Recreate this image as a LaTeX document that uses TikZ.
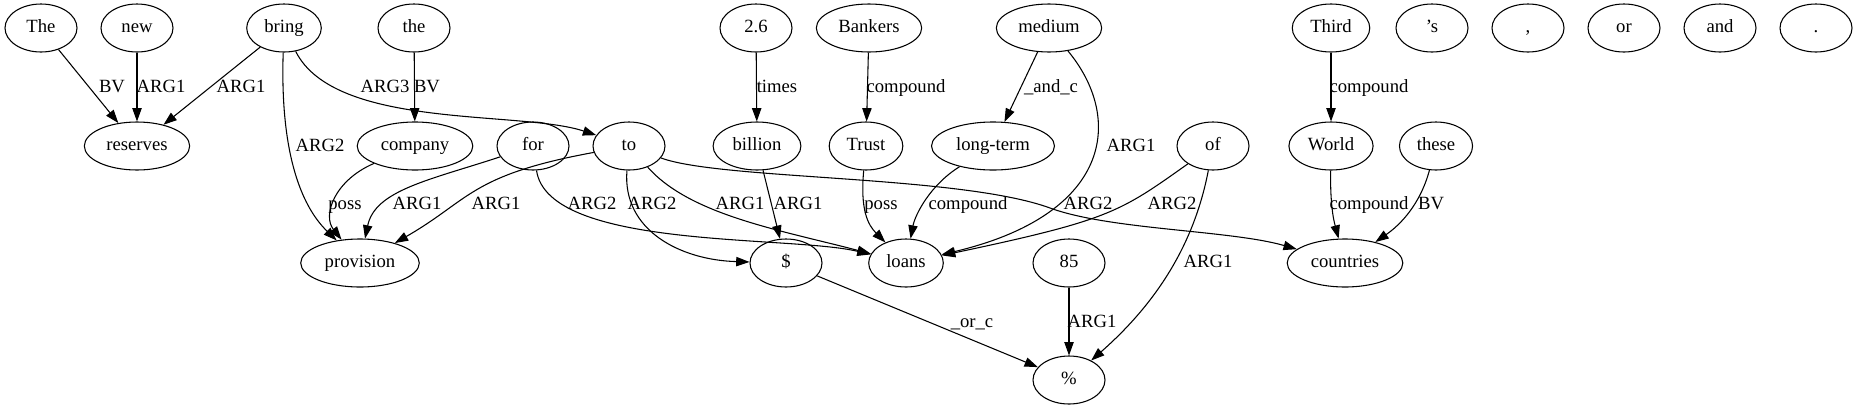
\documentclass[tikz,border=0pt]{standalone}
\usepackage{fontspec}
\setmainfont{Liberation Serif}
\usetikzlibrary{arrows.meta, shapes.geometric}

\tikzset{
  word/.style={draw, ellipse, line width=0.8pt, inner xsep=5pt, inner ysep=3pt,
    minimum width=54pt, minimum height=36pt, text height=10pt, text depth=3pt},
  rel/.style={line width=0.8pt, -{Triangle[length=10pt,width=7pt]}},
  lbl/.style={inner sep=0pt, text height=10pt, text depth=3pt}
}

\begin{document}
\begin{tikzpicture}[x=0.75pt, y=-0.75pt, font=\fontsize{14}{17}\selectfont]
	\useasboundingbox (0,0) rectangle (1859,411);
	% Nodes
	\node[word] (theA) at (41,28) {The};
	\node[word] (new) at (137,28) {new};
	\node[word] (bring) at (284,28) {bring};
	\node[word] (theB) at (414,28) {the};
	\node[word] (twosix) at (756,28) {2.6};
	\node[word] (bankers) at (869,28) {Bankers};
	\node[word] (medium) at (1049,28) {medium};
	\node[word] (third) at (1331,28) {Third};
	\node[word] (aposs) at (1432,28) {'s};
	\node[word] (comma) at (1528,28) {,};
	\node[word] (orw) at (1624,28) {or};
	\node[word] (andw) at (1720,28) {and};
	\node[word] (stop) at (1816,28) {.};

	\node[word] (reserves) at (137,146) {reserves};
	\node[word] (company) at (415,146) {company};
	\node[word] (forw) at (533,146) {for};
	\node[word] (tow) at (629,146) {to};
	\node[word] (billion) at (757,146) {billion};
	\node[word] (trust) at (866,146) {Trust};
	\node[word] (longterm) at (993,146) {long-term};
	\node[word] (ofw) at (1213,146) {of};
	\node[word] (world) at (1331,146) {World};
	\node[word] (these) at (1436,146) {these};

	\node[word] (provision) at (360,263) {provision};
	\node[word] (dollar) at (786,263) {\$};
	\node[word] (loans) at (906,263) {loans};
	\node[word] (eightyfive) at (1069,263) {85};
	\node[word] (countries) at (1345,263) {countries};

	\node[word] (percent) at (1069,380) {\%};

	% Arrows
	\draw[rel] (theA) -- (reserves) node[lbl] at (112,88) {BV};
	\draw[rel] (new) -- (reserves) node[lbl] at (161,88) {ARG1};
	\draw[rel] (bring) -- (reserves) node[lbl] at (241,88) {ARG1};
	\draw[rel] (bring) .. controls (335,130) and (520,110) .. (tow) node[lbl] at (385,88) {ARG3};
	\draw[rel] (bring) .. controls (280,150) and (300,205) .. (provision) node[lbl] at (320,147) {ARG2};
	\draw[rel] (theB) -- (company) node[lbl] at (427,88) {BV};
	\draw[rel] (company) .. controls (335,180) and (322,215) .. (provision) node[lbl] at (345,205) {poss};
	\draw[rel] (forw) .. controls (430,180) and (375,190) .. (provision) node[lbl] at (417,205) {ARG1};
	\draw[rel] (tow) .. controls (470,175) and (470,200) .. (provision) node[lbl] at (496,205) {ARG1};
	\draw[rel] (forw) .. controls (548,250) and (790,235) .. (loans) node[lbl] at (592,205) {ARG2};
	\draw[rel] (tow) .. controls (622,230) and (680,260) .. (dollar) node[lbl] at (652,205) {ARG2};
	\draw[rel] (tow) .. controls (690,215) and (780,230) .. (loans) node[lbl] at (740,205) {ARG1};
	\draw[rel] (tow) .. controls (720,180) and (960,175) .. (1050,208)
		.. controls (1110,230) and (1230,230) .. (countries) node[lbl] at (1088,205) {ARG2};
	\draw[rel] (twosix) -- (billion) node[lbl] at (777,88) {times};
	\draw[rel] (billion) -- (dollar) node[lbl] at (798,205) {ARG1};
	\draw[rel] (bankers) -- (trust) node[lbl] at (906,88) {compound};
	\draw[rel] (trust) .. controls (860,210) and (868,225) .. (loans) node[lbl] at (881,205) {poss};
	\draw[rel] (medium) -- (longterm) node[lbl] at (1051,88) {\_and\_c};
	\draw[rel] (medium) .. controls (1125,120) and (1110,215) .. (loans) node[lbl] at (1131,147) {ARG1};
	\draw[rel] (longterm) .. controls (930,185) and (915,215) .. (loans) node[lbl] at (968,205) {compound};
	\draw[rel] (ofw) .. controls (1120,212) and (1110,220) .. (loans) node[lbl] at (1172,205) {ARG2};
	\draw[rel] (ofw) .. controls (1195,240) and (1160,300) .. (percent) node[lbl] at (1208,263) {ARG1};
	\draw[rel] (third) -- (world) node[lbl] at (1369,88) {compound};
	\draw[rel] (world) .. controls (1330,210) and (1335,225) .. (countries) node[lbl] at (1369,205) {compound};
	\draw[rel] (these) .. controls (1420,205) and (1400,225) .. (countries) node[lbl] at (1431,205) {BV};
	\draw[rel] (dollar) -- (percent) node[lbl] at (972,323) {\_or\_c};
	\draw[rel] (eightyfive) -- (percent) node[lbl] at (1092,323) {ARG1};
\end{tikzpicture}
\end{document}
